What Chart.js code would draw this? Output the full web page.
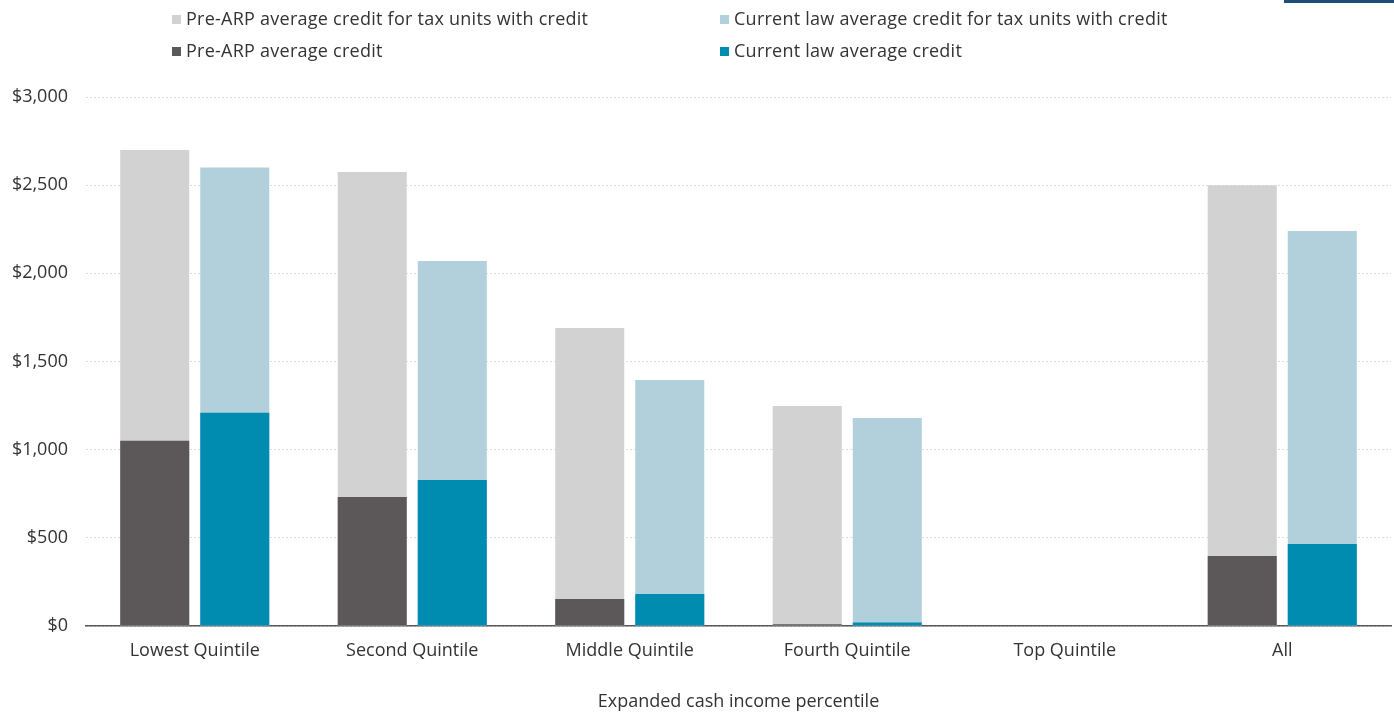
<!DOCTYPE html>
<html>
<head>
<meta charset="utf-8">
<script src="https://cdn.jsdelivr.net/npm/chart.js@4"></script>
<style>
  html, body { margin: 0; padding: 0; background: #fff; }
  body { width: 1394px; height: 713px; position: relative; overflow: hidden; font-family: "Open Sans", sans-serif; }
  #wrap { position: absolute; left: 0; top: 0; width: 1394px; height: 713px; }
  .topbar { position: absolute; left: 1284px; top: 0; width: 110px; height: 3px; background: #1f4e79; }
  .legend { position: absolute; left: 0; top: 0; width: 1394px; height: 70px; }
  .item { position: absolute; font-size: 18px; letter-spacing: 0.25px; color: #333; white-space: nowrap; line-height: 20px; }
  .item span.box { display: inline-block; width: 9px; height: 9px; margin-right: 5px; vertical-align: 1px; }
</style>
</head>
<body>
<div id="wrap"><canvas id="chart" width="1394" height="713"></canvas></div>
<div class="topbar"></div>
<div class="legend" id="legend"></div>
<script>
// ============================
// DATA
// ============================
const categories = ["Lowest Quintile", "Second Quintile", "Middle Quintile", "Fourth Quintile", "Top Quintile", "All"];

const preArpWithCredit = [2700, 2575, 1690, 1248, 0, 2500];
const preArpAverage = [1050, 732, 153, 10, 0, 397];
const currentWithCredit = [2600, 2070, 1395, 1180, 0, 2240];
const currentAverage = [1210, 828, 181, 20, 0, 465];

const yTicks = [0, 500, 1000, 1500, 2000, 2500, 3000];

const colors = {
    preLight: "#d2d2d2",
    preDark: "#5c5859",
    curLight: "#b1d0db",
    curDark: "#008bb0"
};

// ============================
// LEGEND (html, 2 columns)
// ============================
const legendItems = [
    { label: "Pre-ARP average credit for tax units with credit", color: colors.preLight, x: 172, y: 8 },
    { label: "Current law average credit for tax units with credit", color: colors.curLight, x: 720, y: 8 },
    { label: "Pre-ARP average credit", color: colors.preDark, x: 172, y: 40 },
    { label: "Current law average credit", color: colors.curDark, x: 720, y: 40 }
];

const legendEl = document.getElementById("legend");
legendItems.forEach(item => {
    const div = document.createElement("div");
    div.className = "item";
    div.style.left = item.x + "px";
    div.style.top = item.y + "px";
    div.innerHTML = `<span class="box" style="background:${item.color}"></span>${item.label}`;
    legendEl.appendChild(div);
});

// ============================
// CHART
// ============================
// dark bars first so they are drawn on top of the light ones
const datasets = [
    { label: "Pre-ARP average credit", data: preArpAverage, backgroundColor: colors.preDark, stack: "pre" },
    { label: "Current law average credit", data: currentAverage, backgroundColor: colors.curDark, stack: "cur" },
    { label: "Pre-ARP average credit for tax units with credit", data: preArpWithCredit, backgroundColor: colors.preLight, stack: "pre" },
    { label: "Current law average credit for tax units with credit", data: currentWithCredit, backgroundColor: colors.curLight, stack: "cur" }
];

datasets.forEach(ds => {
    ds.categoryPercentage = 0.736;
    ds.barPercentage = 0.8625;
    ds.borderWidth = 0;
});

const font = { family: "'Open Sans', sans-serif", size: 18 };

new Chart(document.getElementById("chart"), {
    type: "bar",
    data: { labels: categories, datasets: datasets },
    options: {
        responsive: false,
        animation: false,
        layout: { padding: { top: 97, right: 3, left: 0, bottom: 0 } },
        plugins: {
            legend: { display: false },
            tooltip: { enabled: false }
        },
        scales: {
            x: {
                stacked: true,
                grid: { display: false, drawTicks: false },
                border: { display: true, color: "#595959", width: 1.5 },
                ticks: { color: "#333", font: font, padding: 14, maxRotation: 0 },
                title: {
                    display: true,
                    text: "Expanded cash income percentile",
                    color: "#333",
                    font: font,
                    padding: { top: 0, bottom: 0 }
                },
                afterFit: scale => { scale.height = 87; }
            },
            y: {
                stacked: false,
                min: 0,
                max: 3000,
                afterBuildTicks: scale => { scale.ticks = yTicks.map(v => ({ value: v })); },
                grid: { color: "#dcdcdc", drawTicks: false },
                border: { display: false, dash: [2, 2] },
                ticks: {
                    color: "#333",
                    font: font,
                    padding: 18,
                    callback: v => "$" + v.toLocaleString("en-US")
                },
                afterFit: scale => { scale.width = 86; }
            }
        }
    }
});
</script>
</body>
</html>
